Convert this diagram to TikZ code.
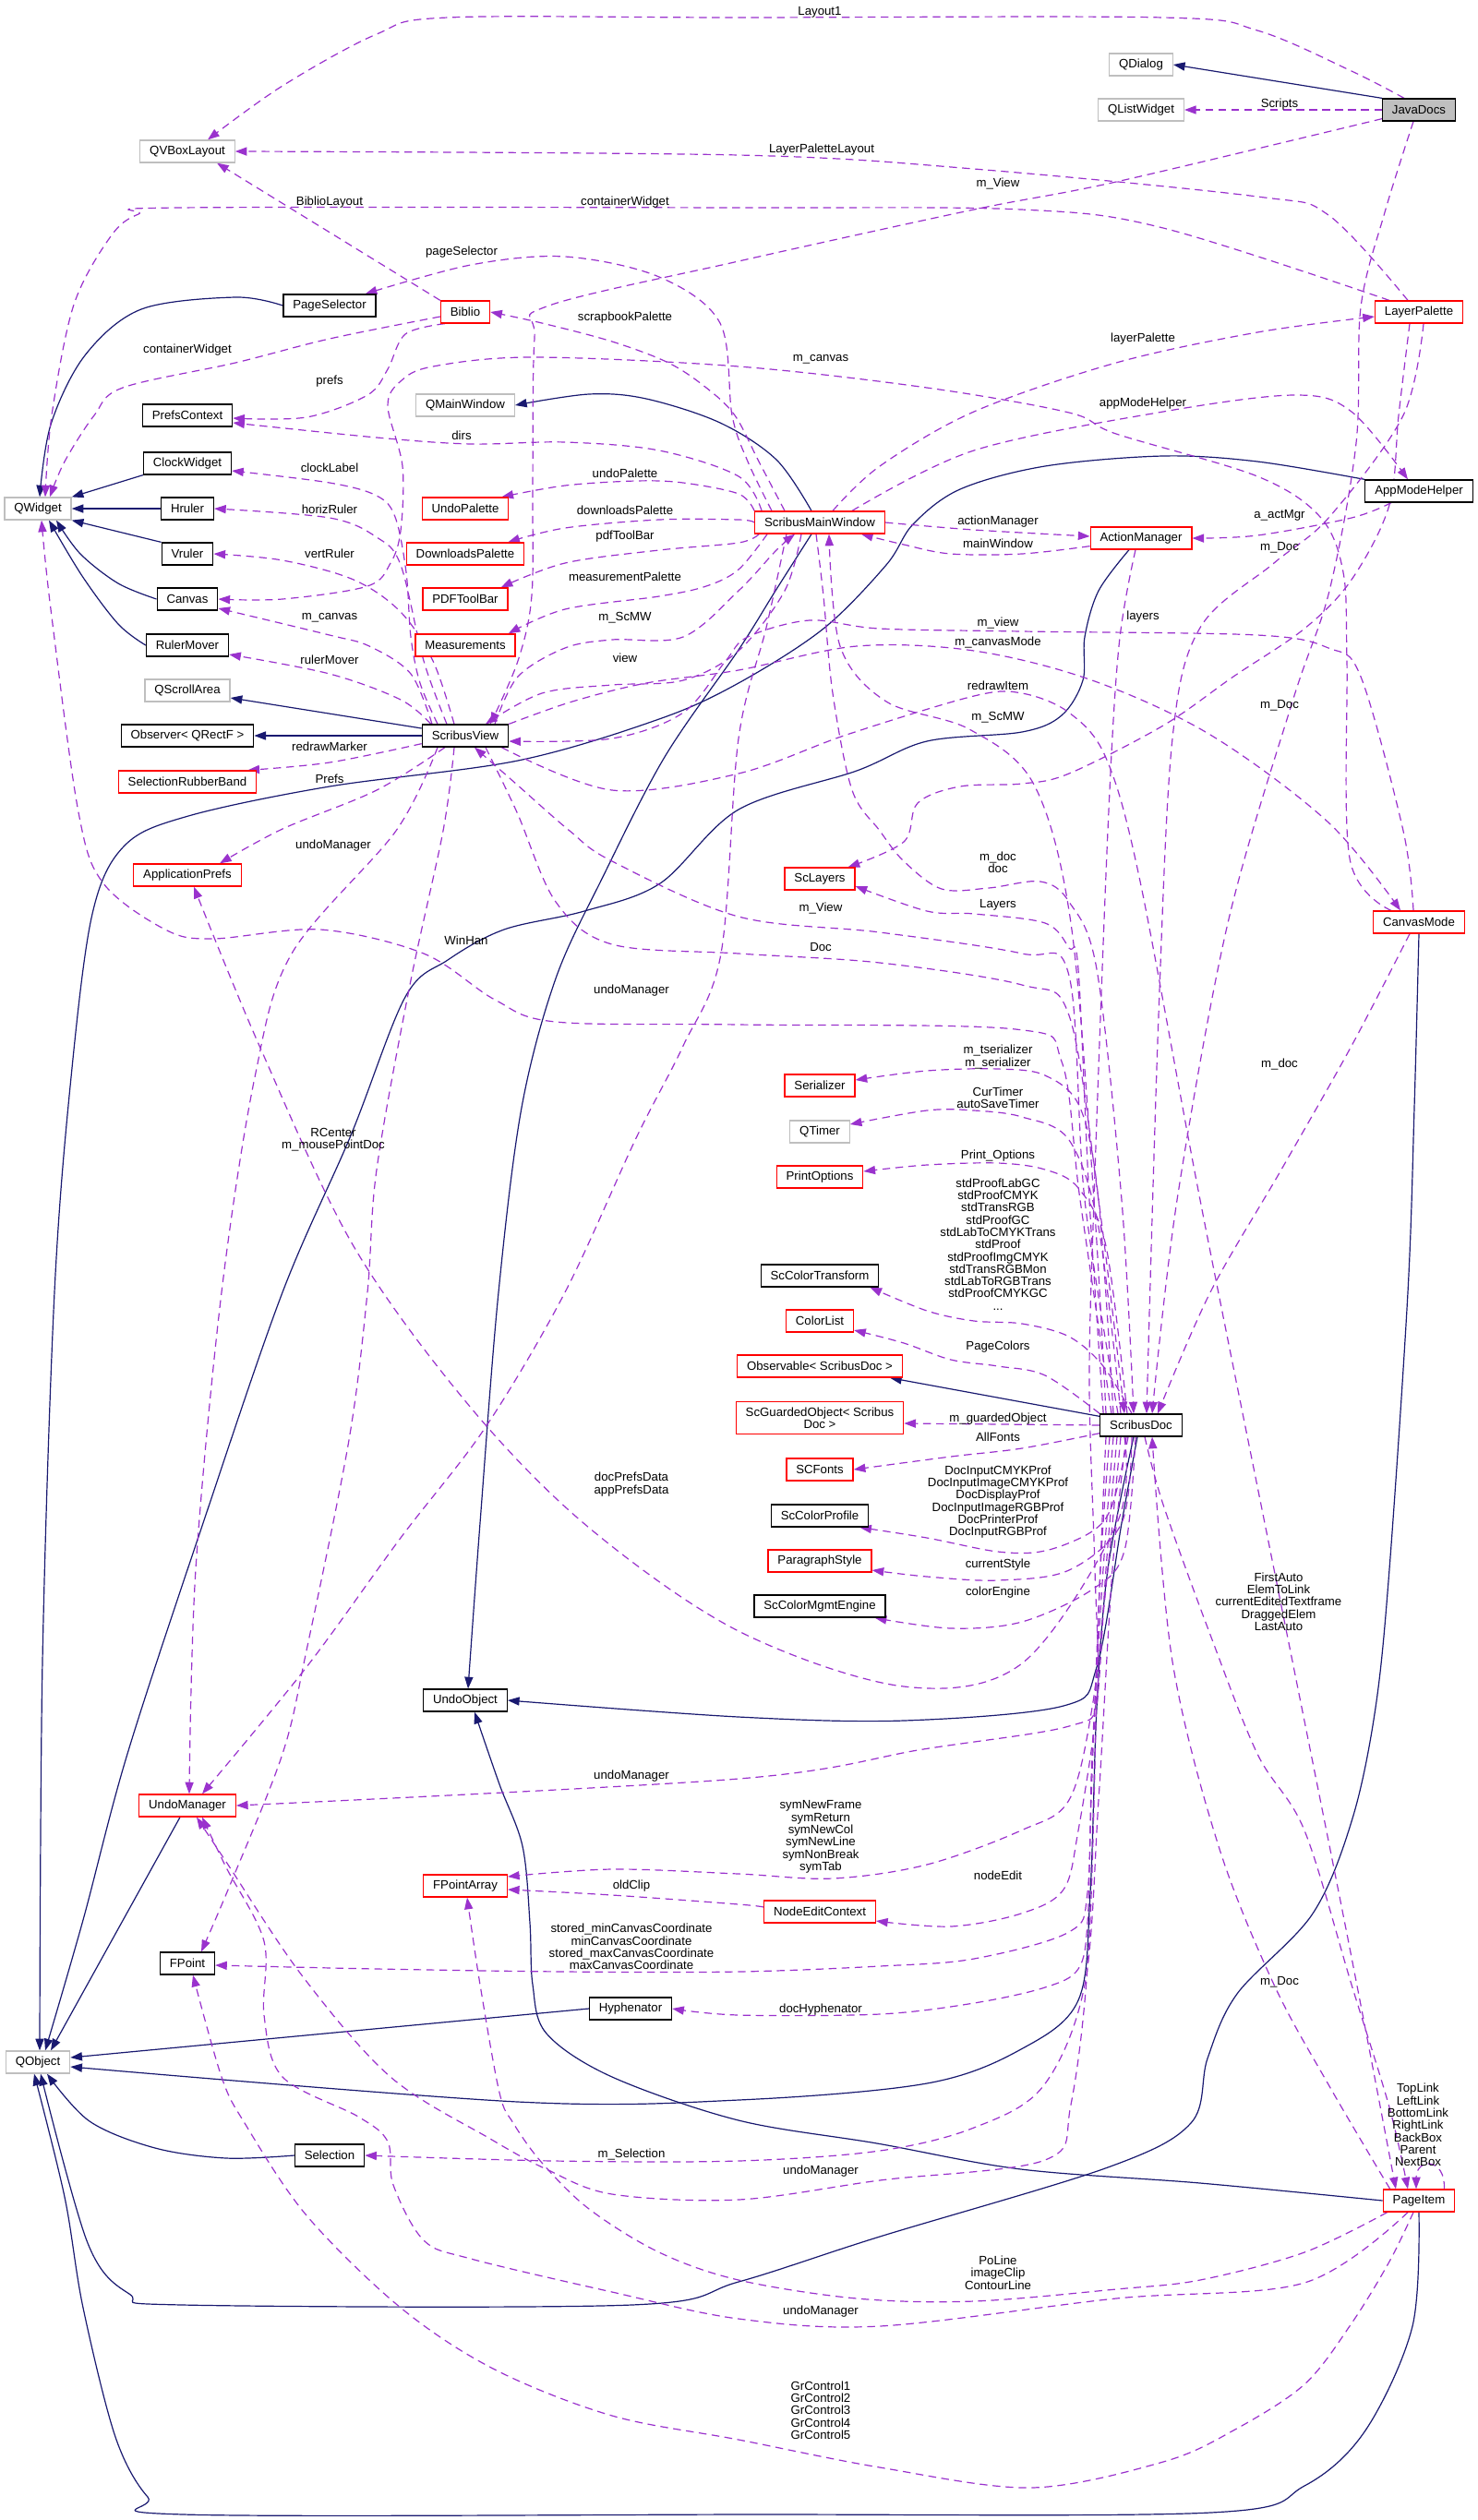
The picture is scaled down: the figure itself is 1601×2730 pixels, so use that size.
\documentclass[tikz,border=0pt]{standalone}
\usepackage{fontspec}
\setmainfont{Liberation Sans}
\usetikzlibrary{arrows.meta, calc}
\definecolor{usecol}{HTML}{9A32CD}
\definecolor{inhcol}{HTML}{191970}
\definecolor{truncol}{HTML}{FF0000}
\definecolor{extcol}{HTML}{BFBFBF}
\newcommand{\graphfont}{\fontsize{9.4pt}{9.45pt}\selectfont}
\pgfdeclarelayer{background}
\pgfdeclarelayer{edges}
\pgfsetlayers{background,edges,main}
\tikzset{
    cls/.style={rectangle, draw=black, line width=0.9pt, fill=white, font=\graphfont, inner xsep=0.26cm, inner ysep=0pt, minimum height=0.6cm},
    trunc/.style={cls, draw=truncol},
    ext/.style={cls, draw=extcol},
    root/.style={cls, fill=extcol},
    inh/.style={-{Triangle[length=9pt,width=6.5pt]}, line width=0.85pt, draw=inhcol},
    usg/.style={-{Triangle[length=9pt,width=6.5pt]}, line width=0.85pt, draw=usecol, dash pattern=on 6pt off 4pt},
    lbl/.style={font=\graphfont, align=center, inner sep=0pt, text=black}
}

\begin{document}
\begin{tikzpicture}[x=0.025cm, y=-0.025cm, every plot/.style={smooth, tension=0.55}]
  \useasboundingbox (0,0) rectangle (1601,2730);
  \begin{pgfonlayer}{background}
    \fill[white] (0,0) rectangle (1601,2730);
  \end{pgfonlayer}

  % classes
  \node[ext] (QDialog) at (1236,70) {QDialog};
  \node[ext] (QListWidget) at (1236,119) {QListWidget};
  \node[root] (JavaDocs) at (1537,119) {JavaDocs};
  \node[ext] (QVBoxLayout) at (203,164) {QVBoxLayout};
  \node[cls] (PageSelector) at (357,331) {PageSelector};
  \node[trunc] (Biblio) at (504,338) {Biblio};
  \node[trunc] (LayerPalette) at (1537,338) {LayerPalette};
  \node[ext] (QMainWindow) at (504,439) {QMainWindow};
  \node[cls] (PrefsContext) at (203,450) {PrefsContext};
  \node[cls] (ClockWidget) at (203,502) {ClockWidget};
  \node[cls] (AppModeHelper) at (1537,532) {AppModeHelper};
  \node[ext] (QWidget) at (41,551) {QWidget};
  \node[cls] (Hruler) at (203,551) {Hruler};
  \node[trunc] (UndoPalette) at (504,551) {UndoPalette};
  \node[trunc] (ScribusMainWindow) at (888,566) {ScribusMainWindow};
  \node[trunc] (ActionManager) at (1236,583) {ActionManager};
  \node[cls] (Vruler) at (203,600) {Vruler};
  \node[trunc] (DownloadsPalette) at (504,600) {DownloadsPalette};
  \node[cls] (Canvas) at (203,649) {Canvas};
  \node[trunc] (PDFToolBar) at (504,649) {PDFToolBar};
  \node[cls] (RulerMover) at (203,699) {RulerMover};
  \node[trunc] (Measurements) at (504,699) {Measurements};
  \node[ext] (QScrollArea) at (203,748) {QScrollArea};
  \node[cls] (ObserverRect) at (203,797) {Observer< QRectF >};
  \node[cls] (ScribusView) at (504,797) {ScribusView};
  \node[trunc] (SelRubberBand) at (203,847) {SelectionRubberBand};
  \node[trunc] (ApplicationPrefs) at (203,948) {ApplicationPrefs};
  \node[trunc] (ScLayers) at (888,952) {ScLayers};
  \node[trunc] (CanvasMode) at (1537,999) {CanvasMode};
  \node[trunc] (Serializer) at (888,1176) {Serializer};
  \node[ext] (QTimer) at (888,1226) {QTimer};
  \node[trunc] (PrintOptions) at (888,1275) {PrintOptions};
  \node[cls] (ScColorTransform) at (888,1382) {ScColorTransform};
  \node[trunc] (ColorList) at (888,1431) {ColorList};
  \node[trunc] (Observable) at (888,1480) {Observable< ScribusDoc >};
  \node[trunc, align=center, inner ysep=4.5pt] (ScGuardedObject) at (888,1536) {ScGuardedObject< Scribus\\Doc >};
  \node[cls] (ScribusDoc) at (1236,1544) {ScribusDoc};
  \node[trunc] (SCFonts) at (888,1592) {SCFonts};
  \node[cls] (ScColorProfile) at (888,1642) {ScColorProfile};
  \node[trunc] (ParagraphStyle) at (888,1691) {ParagraphStyle};
  \node[cls] (ScColorMgmtEngine) at (888,1740) {ScColorMgmtEngine};
  \node[cls] (UndoObject) at (504,1842) {UndoObject};
  \node[trunc] (UndoManager) at (203,1956) {UndoManager};
  \node[trunc] (FPointArray) at (504,2043) {FPointArray};
  \node[trunc] (NodeEditContext) at (888,2071) {NodeEditContext};
  \node[cls] (FPoint) at (203,2127) {FPoint};
  \node[cls] (Hyphenator) at (683,2176) {Hyphenator};
  \node[ext] (QObject) at (41,2234) {QObject};
  \node[cls] (Selection) at (357,2335) {Selection};
  \node[trunc] (PageItem) at (1537,2384) {PageItem};

  % labels
  \node[lbl] (lLayout) at (888,13) {Layout1};
  \node[lbl] (lScripts) at (1386,113) {Scripts};
  \node[lbl] (lLPLayout) at (890,162) {LayerPaletteLayout};
  \node[lbl] (lJDView) at (1081,199) {m\_View};
  \node[lbl] (lBiblioLayout) at (357,219) {BiblioLayout};
  \node[lbl] (lCWupper) at (677,219) {containerWidget};
  \node[lbl] (lPageSel) at (500,273) {pageSelector};
  \node[lbl] (lScrap) at (677,344) {scrapbookPalette};
  \node[lbl] (lLayerPal) at (1238,367) {layerPalette};
  \node[lbl] (lCWlower) at (203,379) {containerWidget};
  \node[lbl] (lCMCanvas) at (889,389) {m\_canvas};
  \node[lbl] (lPrefs) at (357,413) {prefs};
  \node[lbl] (lAppMode) at (1238,437) {appModeHelper};
  \node[lbl] (lDirs) at (500,472) {dirs};
  \node[lbl] (lClock) at (357,507) {clockLabel};
  \node[lbl] (lUndoPal) at (677,513) {undoPalette};
  \node[lbl] (lHoriz) at (357,552) {horizRuler};
  \node[lbl] (lDownloads) at (677,553) {downloadsPalette};
  \node[lbl] (lActMgr) at (1386,558) {a\_actMgr};
  \node[lbl] (lActionMgr) at (1081,565) {actionManager};
  \node[lbl] (lPdf) at (677,581) {pdfToolBar};
  \node[lbl] (lMainWin) at (1081,589) {mainWindow};
  \node[lbl] (lLPDoc) at (1386,593) {m\_Doc};
  \node[lbl] (lVert) at (357,600) {vertRuler};
  \node[lbl] (lMeas) at (677,625) {measurementPalette};
  \node[lbl] (lLayers) at (1238,668) {layers};
  \node[lbl] (lSVCanvas) at (357,669) {m\_canvas};
  \node[lbl] (lSVScMW) at (677,669) {m\_ScMW};
  \node[lbl] (lCMView) at (1081,675) {m\_view};
  \node[lbl] (lCanvasMode) at (1081,696) {m\_canvasMode};
  \node[lbl] (lRuler) at (357,715) {rulerMover};
  \node[lbl] (lView) at (677,713) {view};
  \node[lbl] (lRedrawItem) at (1081,743) {redrawItem};
  \node[lbl] (lJDDoc) at (1386,764) {m\_Doc};
  \node[lbl] (lSDScMW) at (1081,777) {m\_ScMW};
  \node[lbl] (lRedrawMarker) at (357,809) {redrawMarker};
  \node[lbl] (lPrefsAP) at (357,844) {Prefs};
  \node[lbl] (lSVUndo) at (361,916) {undoManager};
  \node[lbl] (lMainDoc) at (1081,934) {m\_doc\\doc};
  \node[lbl] (lLayersSD) at (1081,980) {Layers};
  \node[lbl] (lSDView) at (889,984) {m\_View};
  \node[lbl] (lWinHan) at (505,1019) {WinHan};
  \node[lbl] (lDoc) at (889,1026) {Doc};
  \node[lbl] (lSMWUndo) at (684,1073) {undoManager};
  \node[lbl] (lSerial) at (1081,1145) {m\_tserializer\\m\_serializer};
  \node[lbl] (lCMDoc) at (1386,1153) {m\_doc};
  \node[lbl] (lTimer) at (1081,1189) {CurTimer\\autoSaveTimer};
  \node[lbl] (lRCenter) at (361,1235) {RCenter\\m\_mousePointDoc};
  \node[lbl] (lPrint) at (1081,1252) {Print\_Options};
  \node[lbl] (lStdProof) at (1081,1348) {stdProofLabGC\\stdProofCMYK\\stdTransRGB\\stdProofGC\\stdLabToCMYKTrans\\stdProof\\stdProofImgCMYK\\stdTransRGBMon\\stdLabToRGBTrans\\stdProofCMYKGC\\...};
  \node[lbl] (lPageColors) at (1081,1459) {PageColors};
  \node[lbl] (lGuarded) at (1081,1537) {m\_guardedObject};
  \node[lbl] (lAllFonts) at (1081,1557) {AllFonts};
  \node[lbl] (lPrefsData) at (684,1608) {docPrefsData\\appPrefsData};
  \node[lbl] (lDocInput) at (1081,1627) {DocInputCMYKProf\\DocInputImageCMYKProf\\DocDisplayProf\\DocInputImageRGBProf\\DocPrinterProf\\DocInputRGBProf};
  \node[lbl] (lCurStyle) at (1081,1695) {currentStyle};
  \node[lbl] (lColorEng) at (1081,1725) {colorEngine};
  \node[lbl] (lFirstAuto) at (1385,1735) {FirstAuto\\ElemToLink\\currentEditedTextframe\\DraggedElem\\LastAuto};
  \node[lbl] (lAMUndo) at (684,1924) {undoManager};
  \node[lbl] (lSym) at (889,1990) {symNewFrame\\symReturn\\symNewCol\\symNewLine\\symNonBreak\\symTab};
  \node[lbl] (lNodeEdit) at (1081,2032) {nodeEdit};
  \node[lbl] (lOldClip) at (684,2043) {oldClip};
  \node[lbl] (lStored) at (684,2109) {stored\_minCanvasCoordinate\\minCanvasCoordinate\\stored\_maxCanvasCoordinate\\maxCanvasCoordinate};
  \node[lbl] (lPIDoc) at (1386,2147) {m\_Doc};
  \node[lbl] (lHyph) at (889,2177) {docHyphenator};
  \node[lbl] (lLinks) at (1536,2302) {TopLink\\LeftLink\\BottomLink\\RightLink\\BackBox\\Parent\\NextBox};
  \node[lbl] (lSelection) at (684,2334) {m\_Selection};
  \node[lbl] (lSDUndo) at (889,2352) {undoManager};
  \node[lbl] (lPoLine) at (1081,2462) {PoLine\\imageClip\\ContourLine};
  \node[lbl] (lPIUndo) at (889,2504) {undoManager};
  \node[lbl] (lGrControl) at (889,2611) {GrControl1\\GrControl2\\GrControl3\\GrControl4\\GrControl5};

  \begin{pgfonlayer}{edges}
  % inheritance
  \draw[inh] (JavaDocs.north west) -- (QDialog.east);
  \draw[inh] plot coordinates {(PageSelector.west) (255,322) (153,335) (92,385) (55,460) ($(QWidget.north)+(2,0)$)};
  \draw[inh] (ClockWidget.south west) -- (QWidget.north east);
  \draw[inh] (Hruler.west) -- (QWidget.east);
  \draw[inh] (Vruler.north west) -- (QWidget.south east);
  \draw[inh] plot coordinates {(Canvas.west) (128,632) (87,600) ($(QWidget.south)+(20,0)$)};
  \draw[inh] plot coordinates {(RulerMover.west) (128,676) (89,624) ($(QWidget.south)+(12,0)$)};
  \draw[inh] plot coordinates {($(ScribusMainWindow.north)+(-9,0)$) (841,498) (780,458) (700,432) (638,427) (QMainWindow.east)};
  \draw[inh] ($(ScribusView.west)+(0,-8)$) -- ($(QScrollArea.east)+(0,8)$);
  \draw[inh] (ScribusView.west) -- (ObserverRect.east);
  \draw[inh] plot coordinates {(AppModeHelper.north west) (1362,500) (1260,494) (1132,505) (1040,530) (989,568) (960,612) (892,681) (800,740) (714,779) (561,824) (357,852) (204,884) (135,916) (100,990) (77,1167) (59,1400) (46,1800) ($(QObject.north)+(2,0)$)};
  \draw[inh] plot coordinates {($(ScribusMainWindow.south)+(-9,0)$) (840,640) (800,704) (720,820) (653,950) (602,1060) (565,1200) (540,1400) (520,1650) ($(UndoObject.north)+(3,0)$)};
  \draw[inh] plot coordinates {($(ActionManager.south)+(-13,0)$) (1190,640) (1175,690) (1173,737) (1150,775) (1107,793) (1004,803) (928,835) (800,877) (715,957) (633,987) (546,1007) (485,1040) (439,1080) (380,1230) (306,1400) (220,1650) (138,1900) (90,2080) ($(QObject.north)+(8,0)$)};
  \draw[inh] ($(ScribusDoc.north west)+(0,3)$) -- ($(Observable.south east)+(-14,0)$);
  \draw[inh] plot coordinates {($(ScribusDoc.south)+(-4,0)$) (1215,1650) (1188,1806) (1152,1848) (979,1864) (800,1860) (UndoObject.east)};
  \draw[inh] plot coordinates {($(ScribusDoc.south)+(-8,0)$) (1200,1700) (1188,1850) (1181,2050) (1168,2167) (1106,2220) (1004,2257) (800,2275) (561,2277) ($(QObject.east)+(0,5)$)};
  \draw[inh] (Hyphenator.west) -- ($(QObject.east)+(0,-5)$);
  \draw[inh] plot coordinates {(Selection.west) (245,2338) (168,2327) (97,2298) ($(QObject.south)+(10,0)$)};
  \draw[inh] ($(UndoManager.south)+(-8,0)$) -- ($(QObject.north)+(14,0)$);
  \draw[inh] plot coordinates {(CanvasMode.south) (1532,1200) (1525,1400) (1505,1700) (1490,1850) (1465,1970) (1422,2073) (1340,2160) (1308,2230) (1290,2300) (1200,2348) (953,2423) (800,2472) (684,2497) (198,2497) (140,2485) (95,2430) ($(QObject.south)+(3,0)$)};
  \draw[inh] plot coordinates {(PageItem.south) (1530,2520) (1479,2633) (1413,2693) (1311,2722) (800,2724) (199,2724) (160,2705) (125,2640) (90,2500) (70,2380) ($(QObject.south)+(-4,0)$)};
  \draw[inh] plot coordinates {(PageItem.west) (1300,2365) (1106,2350) (950,2322) (800,2297) (663,2250) (592,2203) (577,2150) (574,2083) (566,2000) (541,1933) ($(UndoObject.south)+(10,0)$)};

  % usage
  \draw[usg] plot coordinates {($(JavaDocs.north)+(-16,0)$) (1464,77) (1362,33) (1260,19) (800,19) (485,19) (408,37) (306,93) ($(QVBoxLayout.north)+(22,0)$)};
  \draw[usg] (JavaDocs.west) -- (QListWidget.east);
  \draw[usg] plot coordinates {($(JavaDocs.south west)+(0,-3)$) (1209,197) (1055,227) (800,283) (592,332) (579,367) (577,523) (576,645) (561,716) ($(ScribusView.north)+(27,0)$)};
  \draw[usg] plot coordinates {($(LayerPalette.north)+(-12,0)$) (1439,233) (1362,213) (1055,183) (800,168) (QVBoxLayout.east)};
  \draw[usg] plot coordinates {($(LayerPalette.north west)+(16,0)$) (1260,247) (1106,227) (800,225) (194,225) (150,232) (120,256) (80,330) (56,450) ($(QWidget.north)+(8,0)$)};
  \draw[usg] (Biblio.north west) -- ($(QVBoxLayout.south)+(32,0)$);
  \draw[usg] plot coordinates {($(ScribusMainWindow.north)+(-52,0)$) (810,500) (793,450) (780,350) (714,300) (612,278) (510,287) ($(PageSelector.north east)+(-12,0)$)};
  \draw[usg] plot coordinates {($(ScribusMainWindow.north)+(-38,0)$) (822,500) (796,450) (765,420) (724,393) (663,370) (587,350) (Biblio.east)};
  \draw[usg] plot coordinates {($(ScribusMainWindow.north)+(14,0)$) (953,505) (1055,446) (1209,393) (1362,360) ($(LayerPalette.west)+(0,5)$)};
  \draw[usg] plot coordinates {($(Biblio.west)+(0,5)$) (357,367) (255,393) (133,420) (102,450) (70,500) ($(QWidget.north)+(13,0)$)};
  \draw[usg] plot coordinates {($(CanvasMode.north)+(-30,0)$) (1462,930) (1459,716) (1455,620) (1430,560) (1362,516) (1209,470) (1158,447) (1004,420) (800,397) (577,387) (469,397) (434,413) (420,440) (436,505) (434,575) (423,610) (398,635) (306,649) (Canvas.east)};
  \draw[usg] plot coordinates {($(Biblio.south west)+(5,0)$) (439,362) (420,400) (398,428) (332,452) ($(PrefsContext.east)+(0,3)$)};
  \draw[usg] plot coordinates {($(ScribusMainWindow.north)+(35,0)$) (1055,488) (1260,446) (1403,428) (1464,446) ($(AppModeHelper.north)+(-12,0)$)};
  \draw[usg] plot coordinates {($(ScribusMainWindow.north west)+(8,0)$) (800,516) (714,488) (612,479) (510,481) (408,474) ($(PrefsContext.east)+(0,8)$)};
  \draw[usg] plot coordinates {($(ScribusView.north)+(-30,0)$) (455,740) (445,690) (440,620) (428,560) (408,537) (357,523) ($(ClockWidget.east)+(0,8)$)};
  \draw[usg] plot coordinates {($(ScribusView.north)+(-20,0)$) (459,716) (434,612) (408,582) (357,561) (Hruler.east)};
  \draw[usg] plot coordinates {(ScribusMainWindow.north west) (800,535) (740,523) (689,521) (612,526) ($(UndoPalette.north east)+(-8,0)$)};
  \draw[usg] plot coordinates {($(ScribusView.north)+(-12,0)$) (469,716) (434,663) (383,628) (306,607) (Vruler.east)};
  \draw[usg] plot coordinates {(ScribusMainWindow.west) (800,563) (714,563) (612,572) ($(DownloadsPalette.north east)+(-18,0)$)};
  \draw[usg] plot coordinates {($(ScribusMainWindow.south west)+(5,0)$) (800,588) (714,596) (612,610) ($(PDFToolBar.north east)+(-8,0)$)};
  \draw[usg] plot coordinates {($(ScribusMainWindow.south west)+(14,0)$) (800,617) (765,635) (714,646) (612,660) ($(Measurements.north east)+(-8,0)$)};
  \draw[usg] plot coordinates {($(ScribusView.north)+(-36,0)$) (445,730) (400,700) (357,688) ($(Canvas.east)+(0,10)$)};
  \draw[usg] plot coordinates {($(ScribusView.north)+(32,0)$) (561,733) (612,702) (663,693) (740,690) (800,640) (841,596) ($(ScribusMainWindow.south)+(-27,0)$)};
  \draw[usg] plot coordinates {($(ScribusMainWindow.south)+(-20,0)$) (850,640) (800,705) (740,737) (663,742) (587,751) ($(ScribusView.north)+(22,0)$)};
  \draw[usg] plot coordinates {($(ScribusView.north west)+(10,0)$) (434,758) (357,730) ($(RulerMover.east)+(0,10)$)};
  \draw[usg] plot coordinates {($(ScribusView.south west)+(0,-4)$) (357,826) ($(SelRubberBand.north east)+(-10,0)$)};
  \draw[usg] plot coordinates {($(ScribusView.south)+(-22,0)$) (408,856) (306,898) ($(ApplicationPrefs.north)+(35,0)$)};
  \draw[usg] plot coordinates {($(ScribusView.south)+(-12,0)$) (480,900) (444,1067) (408,1267) (398,1400) (378,1560) (332,1788) (306,1900) (250,2040) ($(FPoint.north)+(15,0)$)};
  \draw[usg] plot coordinates {($(ScribusView.south)+(-30,0)$) (429,900) (316,1033) (276,1167) (240,1400) (212,1700) ($(UndoManager.north)+(2,0)$)};
  \draw[usg] plot coordinates {($(ScribusView.south)+(22,0)$) (560,880) (602,977) (663,1023) (800,1033) (953,1043) (1107,1067) (1158,1100) (1190,1300) ($(ScribusDoc.north)+(-18,0)$)};
  \draw[usg] plot coordinates {($(ScribusDoc.north)+(-25,0)$) (1175,1300) (1158,1057) (1107,1033) (953,1010) (800,993) (663,933) (617,900) (560,850) ($(ScribusView.south)+(10,0)$)};
  \draw[usg] plot coordinates {($(ScribusDoc.north)+(-32,0)$) (1170,1300) (1150,1150) (1100,1115) (800,1110) (602,1107) (536,1083) (459,1033) (347,1007) (230,1017) (179,1007) (112,957) (85,880) (55,660) ($(QWidget.south)+(4,0)$)};
  \draw[usg] plot coordinates {($(ScribusMainWindow.south)+(-36,0)$) (830,680) (800,800) (781,1033) (740,1133) (689,1233) (612,1400) (526,1546) (434,1666) (332,1806) ($(UndoManager.north)+(16,0)$)};
  \draw[usg] plot coordinates {($(LayerPalette.south)+(-10,0)$) (1515,450) (1505,547) (1464,628) (1413,681) (1336,733) (1260,786) (1158,838) (1107,849) (1040,852) (994,870) (979,912) ($(ScLayers.north east)+(-8,0)$)};
  \draw[usg] plot coordinates {($(AppModeHelper.south)+(-30,0)$) (1464,561) (1362,580) (ActionManager.east)};
  \draw[usg] plot coordinates {(ScribusMainWindow.east) (1055,574) ($(ActionManager.west)+(0,-2)$)};
  \draw[usg] plot coordinates {($(ActionManager.south west)+(0,-4)$) (1107,600) (1030,600) (979,590) ($(ScribusMainWindow.south east)+(-26,0)$)};
  \draw[usg] plot coordinates {($(LayerPalette.south)+(5,0)$) (1520,450) (1440,560) (1380,610) (1300,680) (1270,800) (1255,1100) ($(ScribusDoc.north)+(6,0)$)};
  \draw[usg] plot coordinates {($(JavaDocs.south)+(-6,0)$) (1500,230) (1474,333) (1469,480) (1440,640) (1400,760) (1330,1000) (1275,1300) ($(ScribusDoc.north)+(12,0)$)};
  \draw[usg] plot coordinates {($(CanvasMode.south)+(-10,0)$) (1464,1133) (1388,1267) (1311,1400) ($(ScribusDoc.north)+(18,0)$)};
  \draw[usg] plot coordinates {(ScribusView.north east) (620,760) (700,740) (800,726) (928,700) (1055,705) (1183,737) (1311,796) (1439,891) ($(CanvasMode.north)+(-20,0)$)};
  \draw[usg] plot coordinates {($(CanvasMode.north)+(-6,0)$) (1520,900) (1474,733) (1439,702) (1362,688) (1107,684) (953,681) (877,672) (810,690) (786,716) (740,772) (663,800) ($(ScribusView.east)+(0,6)$)};
  \draw[usg] plot coordinates {($(ScribusDoc.north)+(-38,0)$) (1185,1300) (1160,1000) (1120,850) (1050,790) (960,760) (910,700) ($(ScribusMainWindow.south)+(10,0)$)};
  \draw[usg] plot coordinates {($(ScribusView.south east)+(-8,0)$) (663,856) (800,838) (917,796) (1055,754) (1107,751) (1158,772) (1198,821) (1234,950) (1300,1300) (1380,1700) (1460,2100) ($(PageItem.north)+(-25,0)$)};
  \draw[usg] plot coordinates {($(ScribusMainWindow.south)+(-4,0)$) (892,646) (902,751) (923,856) (953,900) (979,933) (1020,963) (1071,962) (1127,955) (1158,977) (1188,1050) (1215,1300) ($(ScribusDoc.north)+(-8,0)$)};
  \draw[usg] plot coordinates {($(ScribusDoc.north west)+(4,0)$) (1180,1300) (1168,1050) (1158,1027) (1132,1000) (1055,990) (1004,987) ($(ScLayers.east)+(0,8)$)};
  \draw[usg] plot coordinates {($(ScribusDoc.north)+(-30,0)$) (1190,1300) (1170,1200) (1132,1165) (1081,1158) (1004,1160) ($(Serializer.east)+(0,-6)$)};
  \draw[usg] plot coordinates {($(ScribusDoc.north)+(-22,0)$) (1190,1330) (1158,1235) (1107,1210) (1055,1203) (1004,1203) ($(QTimer.east)+(0,-8)$)};
  \draw[usg] plot coordinates {($(ScribusDoc.north)+(-15,0)$) (1198,1350) (1168,1287) (1132,1267) (1081,1260) (1004,1262) ($(PrintOptions.east)+(0,-6)$)};
  \draw[usg] plot coordinates {($(ScribusDoc.north)+(-10,0)$) (1195,1480) (1158,1448) (1107,1434) (1055,1431) (1004,1420) ($(ScColorTransform.south east)+(-10,0)$)};
  \draw[usg] plot coordinates {(ScribusDoc.north west) (1132,1490) (1081,1480) (1030,1473) (979,1455) ($(ColorList.east)+(0,10)$)};
  \draw[usg] (ScribusDoc.west) -- ($(ScGuardedObject.east)+(0,6)$);
  \draw[usg] plot coordinates {($(ScribusDoc.south west)+(0,-4)$) (1107,1569) (1030,1578) (SCFonts.east)};
  \draw[usg] plot coordinates {($(ScribusDoc.south)+(-14,0)$) (1205,1630) (1183,1659) (1132,1680) (1081,1681) (1004,1666) ($(ScColorProfile.south east)+(-10,0)$)};
  \draw[usg] plot coordinates {($(ScribusDoc.south)+(-10,0)$) (1215,1650) (1158,1701) (1081,1712) (1004,1708) ($(ParagraphStyle.east)+(0,10)$)};
  \draw[usg] plot coordinates {($(ScribusDoc.south)+(-6,0)$) (1218,1680) (1183,1722) (1107,1757) (1030,1764) ($(ScColorMgmtEngine.south east)+(-12,0)$)};
  \draw[usg] plot coordinates {($(ScribusDoc.south)+(-18,0)$) (1210,1650) (1107,1802) (979,1827) (800,1767) (638,1655) (510,1525) (383,1350) (281,1133) ($(ApplicationPrefs.south)+(7,0)$)};
  \draw[usg] plot coordinates {($(ScribusDoc.south)+(4,0)$) (1260,1630) (1311,1771) (1362,1900) (1413,1983) (1464,2150) (1505,2283) ($(PageItem.north)+(-12,0)$)};
  \draw[usg] plot coordinates {($(PageItem.north west)+(8,0)$) (1440,2260) (1380,2150) (1320,2000) (1270,1800) ($(ScribusDoc.south)+(12,0)$)};
  \draw[usg] ($(PageItem.north east)+(-12,0)$) .. controls +(2,-34) and +(0,-34) .. ($(PageItem.north)+(-3,0)$);
  \draw[usg] plot coordinates {($(ScribusDoc.south)+(-22,0)$) (1200,1700) (1183,1850) (1158,1950) (1106,1983) (1004,2020) (902,2035) (800,2030) (663,2025) ($(FPointArray.east)+(0,-10)$)};
  \draw[usg] plot coordinates {($(NodeEditContext.west)+(0,-5)$) (800,2063) (663,2053) ($(FPointArray.east)+(0,4)$)};
  \draw[usg] plot coordinates {($(ScribusDoc.south)+(-26,0)$) (1198,1700) (1188,1850) (1168,1983) (1152,2047) (1106,2073) (1030,2087) ($(NodeEditContext.east)+(0,10)$)};
  \draw[usg] plot coordinates {($(ScribusDoc.south)+(-30,0)$) (1195,1700) (1183,1900) (1178,2050) (1158,2093) (1055,2122) (953,2130) (800,2136) (612,2136) (408,2133) ($(FPoint.east)+(0,2)$)};
  \draw[usg] plot coordinates {($(ScribusDoc.south)+(-34,0)$) (1192,1700) (1182,1950) (1178,2083) (1168,2133) (1132,2153) (1055,2170) (953,2182) (800,2183) (Hyphenator.east)};
  \draw[usg] plot coordinates {($(ScribusDoc.south)+(-16,0)$) (1205,1700) (1190,1950) (1175,2150) (1130,2260) (1055,2305) (953,2330) (800,2341) (600,2341) (Selection.east)};
  \draw[usg] plot coordinates {($(ScribusDoc.south)+(-38,0)$) (1190,1750) (1180,2100) (1160,2280) (1132,2340) (953,2362) (800,2383) (663,2377) (592,2350) (531,2317) (423,2250) (327,2140) (245,2017) ($(UndoManager.south)+(10,0)$)};
  \draw[usg] plot coordinates {($(ActionManager.south)+(-6,0)$) (1212,700) (1200,900) (1185,1300) (1180,1500) (1186,1700) (1188,1840) (1158,1870) (1000,1895) (800,1927) (UndoManager.east)};
  \draw[usg] plot coordinates {($(PageItem.south west)+(5,0)$) (1413,2440) (1300,2470) (1209,2480) (1055,2493) (928,2490) (800,2470) (714,2440) (638,2393) (587,2343) (556,2300) (541,2267) (520,2150) ($(FPointArray.south)+(2,0)$)};
  \draw[usg] plot coordinates {($(PageItem.south)+(-12,0)$) (1413,2473) (1209,2490) (953,2520) (800,2512) (663,2483) (510,2447) (459,2427) (426,2367) (420,2320) (388,2293) (306,2250) (286,2183) (286,2103) (245,2023) ($(UndoManager.south)+(16,0)$)};
  \draw[usg] plot coordinates {($(PageItem.south)+(-6,0)$) (1505,2450) (1464,2517) (1413,2583) (1336,2633) (1260,2667) (1117,2695) (953,2673) (800,2643) (663,2617) (536,2567) (434,2500) (332,2400) (265,2300) (240,2250) ($(FPoint.south)+(6,0)$)};
  \end{pgfonlayer}
\end{tikzpicture}
\end{document}
